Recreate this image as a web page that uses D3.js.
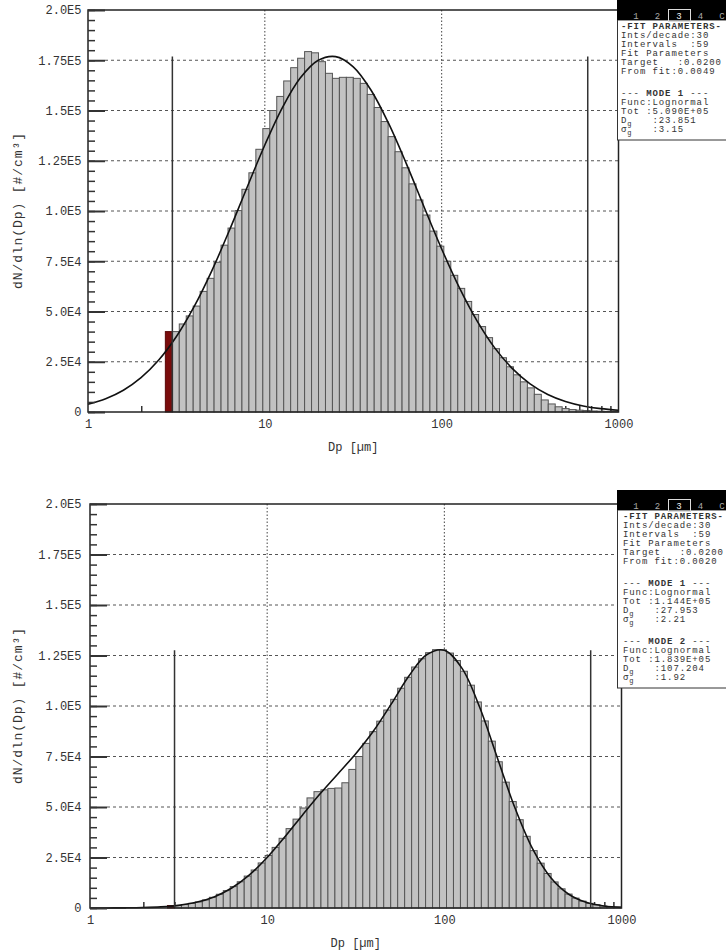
<!DOCTYPE html>
<html>
<head>
<meta charset="utf-8">
<script src="https://cdn.jsdelivr.net/npm/d3@7"></script>
<style>
  body { margin: 0; background: #fff; }
  svg { display: block; }
</style>
</head>
<body>
<svg id="chart" width="726" height="952"></svg>
<script>
const MONO = '"Liberation Mono", "DejaVu Sans Mono", monospace';

// size bins: geometric, the first one (red) starts at binStart
const binStart = 2.738;
const binsPerDecade = 25.4;

// dN/dln(Dp) per bin
const topCounts = [40000, 40000, 43800, 47800, 52700, 60000, 66500, 74500, 83000, 91500,
  100200, 110800, 119000, 130700, 141000, 150000, 157000, 164700, 171300, 176000,
  179300, 178700, 174300, 168500, 166000, 166500, 166500, 166000, 163500, 158000,
  151500, 144500, 137000, 129500, 121500, 113500, 105500, 98000, 90000, 82500,
  75000, 68000, 61500, 55000, 48500, 42500, 37000, 31500, 27000, 22500,
  18500, 15000, 12000, 8800, 6000, 4000, 2600, 1700, 1200, 900,
  700, 500, 400, 300, 250];
const bottomCounts = [1200, 1300, 1700, 2300, 3000, 4000, 5300, 6800, 8600, 10600,
  13000, 15800, 18800, 22300, 26000, 30000, 34500, 39300, 44000, 49500,
  54500, 57600, 58500, 59200, 59400, 62000, 68600, 75000, 81500, 87300,
  92500, 98000, 103300, 108800, 114200, 119300, 123400, 126400, 127900, 127800,
  126200, 122500, 117200, 110300, 102000, 92600, 82600, 72400, 62300, 52700,
  43700, 35500, 28400, 22200, 17100, 12900, 9500, 6900, 4900, 3400,
  2300, 1600, 1000, 700, 450];

// fitted curves, sampled along Dp
const fitDp = [1, 1.259, 1.585, 1.995, 2.512, 3.162, 3.981, 5.012, 6.31, 7.943,
  10, 12.59, 15.85, 19.95, 25.12, 31.62, 39.81, 50.12, 63.1, 79.43,
  100, 125.9, 158.5, 199.5, 251.2, 316.2, 398.1, 501.2, 631, 794.3, 1000];
const topFit = [3878, 6618, 10850, 17089, 25847, 37549, 52403, 70234, 90436, 111841,
  132851, 151576, 166120, 174872, 176820, 171732, 160205, 143558, 123560, 102147,
  81116, 61868, 45330, 31895, 21560, 14001, 8730, 5230, 3009, 1663, 883];
const bottomFit = [9, 28, 82, 226, 569, 1319, 2808, 5497, 9895, 16386,
  24993, 35216, 46088, 56638, 66506, 76382, 87615, 100908, 114825, 125373,
  127644, 118612, 99230, 74136, 49224, 28973, 15095, 6948, 2829, 1018, 323];

// fit range limits
const cutLow = 3.0;
const cutHigh = 670;

const yMajor = [0, 25000, 50000, 75000, 100000, 125000, 150000, 175000, 200000];
const yTickLabels = ['0', '2.5E4', '5.0E4', '7.5E4', '1.0E5', '1.25E5', '1.5E5', '1.75E5', '2.0E5'];
const yMinor = d3.range(0, 200001, 5000);
const xLabels = [1, 10, 100, 1000];
const xGrid = [10, 100];
const xMinor = [2, 3, 4, 5, 6, 7, 8, 9, 20, 30, 40, 50, 60, 70, 80, 90, 200, 300, 400, 500, 600, 700, 800, 900];

const tabs = ['1', '2', '3', '4', 'C'];
const topLegend = ['-FIT PARAMETERS-', 'Ints/decade:30', 'Intervals  :59', 'Fit Parameters',
  'Target   :0.0200', 'From fit:0.0049', '', '--- MODE 1 ---', 'Func:Lognormal',
  'Tot :5.090E+05', 'D_g   :23.851', 'σ_g   :3.15'];
const bottomLegend = ['-FIT PARAMETERS-', 'Ints/decade:30', 'Intervals  :59', 'Fit Parameters',
  'Target   :0.0200', 'From fit:0.0020', '', '--- MODE 1 ---', 'Func:Lognormal',
  'Tot :1.144E+05', 'D_g   :27.953', 'σ_g   :2.21', '', '--- MODE 2 ---', 'Func:Lognormal',
  'Tot :1.839E+05', 'D_g   :107.204', 'σ_g   :1.92'];

const svg = d3.select('#chart');

function binEdge(i) {
  return binStart * Math.pow(10, i / binsPerDecade);
}

function drawPanel(p) {
  const x = d3.scaleLog().domain([1, 1000]).range([p.left, p.right]);
  const y = d3.scaleLinear().domain([0, 200000]).range([p.bottom, p.top]);
  const g = svg.append('g');

  // grid lines
  g.append('g').selectAll('line')
    .data(yMajor.filter(v => v > 0 && v < 200000))
    .join('line')
    .attr('x1', p.left + 17).attr('x2', p.right)
    .attr('y1', d => y(d)).attr('y2', d => y(d))
    .attr('stroke', '#555').attr('stroke-width', 1).attr('stroke-dasharray', '3,3');
  g.append('g').selectAll('line')
    .data(xGrid)
    .join('line')
    .attr('x1', d => x(d)).attr('x2', d => x(d))
    .attr('y1', p.top).attr('y2', p.bottom)
    .attr('stroke', '#444').attr('stroke-width', 1).attr('stroke-dasharray', '1.5,2');

  // minor x ticks (under the bars)
  g.append('g')
    .attr('transform', `translate(0,${p.bottom})`)
    .call(d3.axisTop(x).tickValues(xMinor).tickSize(6).tickFormat(''))
    .call(a => a.select('.domain').remove())
    .selectAll('line').attr('stroke', '#333').attr('stroke-width', 1.5);

  // histogram
  const bars = p.counts.map((v, i) => ({ lo: binEdge(i), hi: binEdge(i + 1), v, i }));
  g.append('g').selectAll('rect')
    .data(bars)
    .join('rect')
    .attr('x', d => x(d.lo))
    .attr('width', d => x(d.hi) - x(d.lo))
    .attr('y', d => y(d.v))
    .attr('height', d => y(0) - y(d.v))
    .attr('fill', d => d.i === 0 ? '#7a0c0c' : '#c2c2c2')
    .attr('stroke', d => d.i === 0 ? '#5a0808' : '#555')
    .attr('stroke-width', 1);

  // fitted curve
  const line = d3.line()
    .x(d => x(d[0]))
    .y(d => y(d[1]))
    .curve(d3.curveCatmullRom);
  g.append('path')
    .datum(fitDp.map((d, i) => [d, p.fit[i]]))
    .attr('d', line)
    .attr('fill', 'none')
    .attr('stroke', '#111')
    .attr('stroke-width', 1.6);

  // fit range markers
  const fitMax = d3.max(p.fit);
  g.append('g').selectAll('line')
    .data([cutLow, cutHigh])
    .join('line')
    .attr('x1', d => x(d)).attr('x2', d => x(d))
    .attr('y1', y(0)).attr('y2', y(fitMax))
    .attr('stroke', '#333').attr('stroke-width', 1.5);

  // frame
  g.append('rect')
    .attr('x', p.left).attr('y', p.top)
    .attr('width', p.right - p.left).attr('height', p.bottom - p.top)
    .attr('fill', 'none').attr('stroke', '#222').attr('stroke-width', 1.5);

  // inward y ticks
  g.append('g')
    .attr('transform', `translate(${p.left},0)`)
    .call(d3.axisRight(y).tickValues(yMinor).tickSize(7).tickFormat(''))
    .call(a => a.select('.domain').remove())
    .selectAll('line').attr('stroke', '#333').attr('stroke-width', 1.5);
  g.append('g')
    .attr('transform', `translate(${p.left},0)`)
    .call(d3.axisRight(y).tickValues(yMajor).tickSize(17).tickFormat(''))
    .call(a => a.select('.domain').remove())
    .selectAll('line').attr('stroke', '#333').attr('stroke-width', 2);

  // y labels
  const ya = g.append('g')
    .attr('transform', `translate(${p.left},0)`)
    .call(d3.axisLeft(y).tickValues(yMajor).tickFormat((d, i) => yTickLabels[i]).tickSize(0).tickPadding(p.left - 81.5));
  ya.select('.domain').remove();
  ya.attr('font-family', MONO).attr('font-size', 12);
  ya.selectAll('text').attr('fill', '#333');

  // x labels
  const xa = g.append('g')
    .attr('transform', `translate(0,${p.bottom})`)
    .call(d3.axisBottom(x).tickValues(xLabels).tickFormat(d3.format('d')).tickSize(0).tickPadding(7));
  xa.select('.domain').remove();
  xa.attr('font-family', MONO).attr('font-size', 12);
  xa.selectAll('text').attr('fill', '#333');

  // axis titles
  g.append('text')
    .attr('x', (p.left + p.right) / 2).attr('y', p.bottom + 39)
    .attr('text-anchor', 'middle')
    .attr('font-family', MONO).attr('font-size', 12).attr('fill', '#333')
    .text('Dp [µm]');
  g.append('text')
    .attr('transform', `translate(22,${(p.top + p.bottom) / 2}) rotate(-90)`)
    .attr('text-anchor', 'middle')
    .attr('font-family', MONO).attr('font-size', 13).attr('fill', '#333')
    .attr('textLength', 156).attr('lengthAdjust', 'spacing')
    .text('dN/dln(Dp)  [#/cm³]');
}

function drawLegend(y0, rows, x0) {
  const cw = 6.3;
  const step = 9;
  const g = svg.append('g').attr('font-family', MONO).attr('fill', '#333');

  // row positions
  const pos = [];
  let cy = y0 + 27;
  rows.forEach(r => {
    if (r === '') { pos.push(null); cy += 13; }
    else { pos.push(cy); cy += step; }
  });

  // box
  g.append('rect')
    .attr('x', 617.5).attr('y', y0 + 20)
    .attr('width', 120).attr('height', cy + 1 - (y0 + 20))
    .attr('fill', '#fff').attr('stroke', '#333').attr('stroke-width', 1);

  // tab header
  g.append('rect')
    .attr('x', 617).attr('y', y0)
    .attr('width', 120).attr('height', 20)
    .attr('fill', '#000');
  g.append('rect')
    .attr('x', 668.5).attr('y', y0 + 9.5)
    .attr('width', 22).attr('height', 12)
    .attr('fill', 'none').attr('stroke', '#ddd').attr('stroke-width', 1);
  g.append('g').selectAll('text')
    .data(tabs)
    .join('text')
    .attr('x', (d, i) => 636 + i * 21.5)
    .attr('y', y0 + 15.5)
    .attr('dy', '0.35em')
    .attr('text-anchor', 'middle')
    .attr('font-size', 9)
    .attr('fill', (d, i) => i === 2 ? '#eee' : '#aaa')
    .text(d => d);

  // text rows
  rows.forEach((r, k) => {
    if (r === '') return;
    const t = g.append('text')
      .attr('font-size', 9)
      .attr('letter-spacing', 0.9)
      .attr('xml:space', 'preserve')
      .style('white-space', 'pre')
      .attr('dominant-baseline', 'central');
    const parts = r.split(/(_g|MODE \d|-FIT PARAMETERS-)/).filter(s => s);
    let col = 0;
    parts.forEach(s => {
      const ts = t.append('tspan')
        .attr('x', x0 + col * cw)
        .attr('y', pos[k]);
      if (s === '_g') {
        ts.attr('y', pos[k] + 2.5).attr('font-size', 7).text('g');
        col += 1;
      } else {
        if (s.startsWith('MODE') || s.startsWith('-FIT')) ts.attr('font-weight', 'bold');
        ts.text(s);
        col += s.length;
      }
    });
  });
}

drawPanel({ left: 88, right: 618.5, top: 10, bottom: 412, counts: topCounts, fit: topFit });
drawPanel({ left: 90, right: 621.5, top: 504, bottom: 908, counts: bottomCounts, fit: bottomFit });
drawLegend(0, topLegend, 621);
drawLegend(490, bottomLegend, 623);
</script>
</body>
</html>
